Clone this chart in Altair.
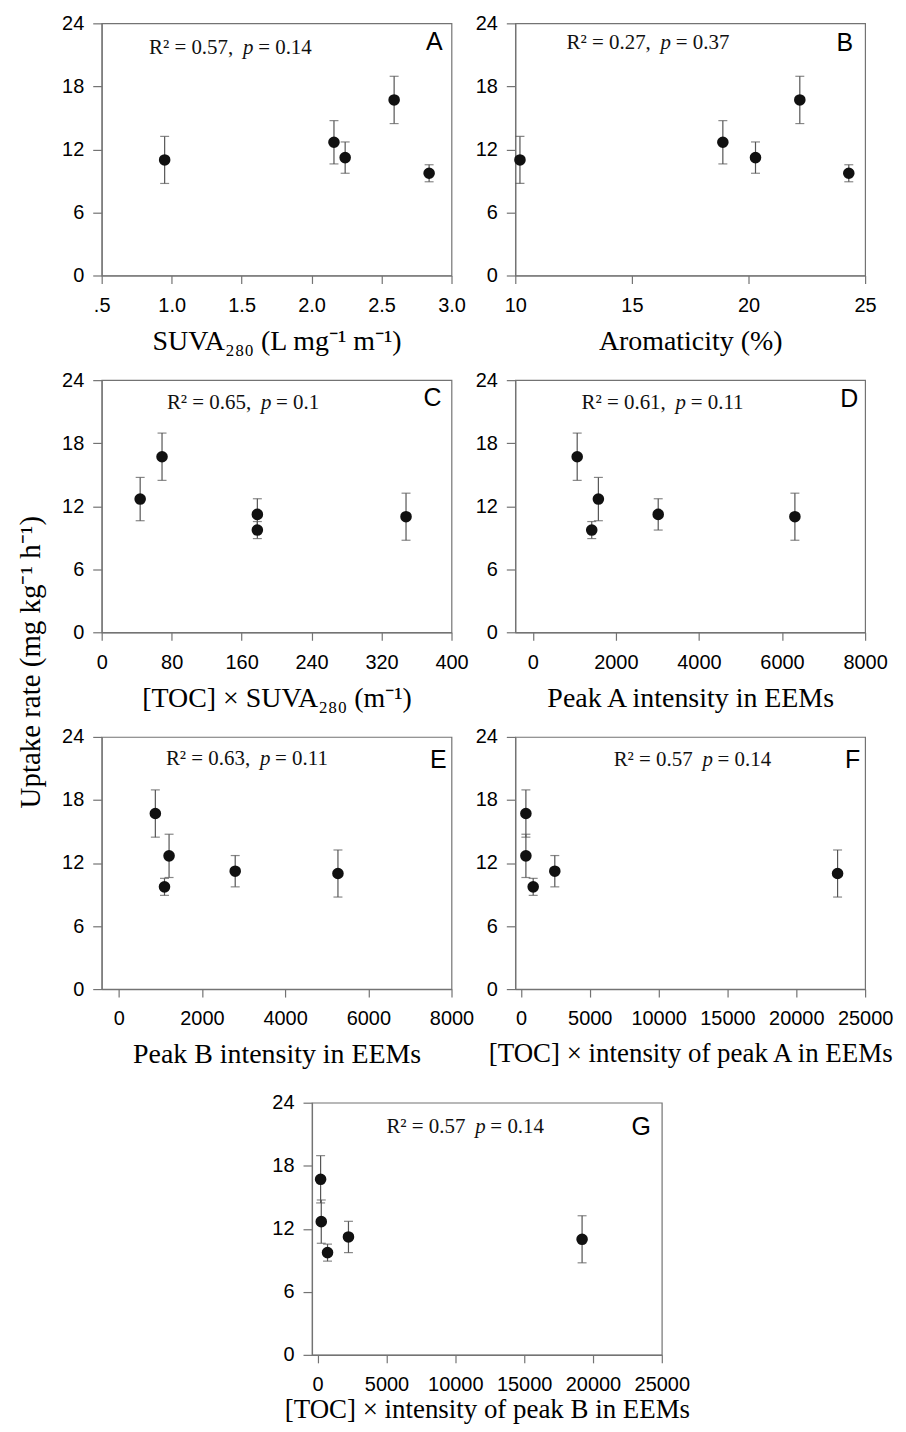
import altair as alt
import pandas as pd

# ---- data ----
uptake = [11.0, 12.68, 11.22, 16.71, 9.73]
uptake_err = [2.24, 2.06, 1.49, 2.25, 0.81]

suva280 = [0.95, 2.16, 2.24, 2.59, 2.84]
aromaticity = [10.2, 18.9, 20.3, 22.2, 24.3]
toc_x_suva = [348, 44, 178, 69, 178]
peak_a = [6310, 1580, 3020, 1070, 1420]
peak_b = [5270, 1210, 2800, 880, 1100]
toc_x_peak_a = [23000, 360, 2460, 360, 890]
toc_x_peak_b = [19210, 265, 2240, 217, 720]

panel_letters = ["A", "B", "C", "D", "E", "F", "G"]
r2_texts = ["R² = 0.57,", "R² = 0.27,", "R² =  0.65,", "R² = 0.61,",
            "R² =  0.63,", "R² = 0.57", "R² = 0.57"]
p_values = ["= 0.14", "= 0.37", "= 0.1", "= 0.11", "= 0.11", "= 0.14", "= 0.14"]
x_titles = [
    "SUVA₂₈₀ (L mg⁻¹ m⁻¹)",
    "Aromaticity (%)",
    "[TOC] ×  SUVA₂₈₀ (m⁻¹)",
    "Peak A intensity in EEMs",
    "Peak B intensity in EEMs",
    "[TOC] ×  intensity of peak A in EEMs",
    "[TOC] ×  intensity of peak B in EEMs",
]
y_title = "Uptake rate (mg kg⁻¹ h⁻¹)"
y_ticks = [0, 6, 12, 18, 24]
x_ticks_a = [0.5, 1.0, 1.5, 2.0, 2.5, 3.0]
x_ticks_b = [10, 15, 20, 25]
x_ticks_c = [0, 80, 160, 240, 320, 400]
x_ticks_de = [0, 2000, 4000, 6000, 8000]
x_ticks_fg = [0, 5000, 10000, 15000, 20000, 25000]

# ---- styling / layout ----
SANS = "Liberation Sans"
SERIF = "Liberation Serif"
GREY = "#737373"
ERR = "#555555"
W, H = 351, 253


def panel(xvals, domain, ticks, idx, label_expr, p_x, p_y, let_dx, let_y,
          title_pad=12, title_size=28, top_extra=None):
    df = pd.DataFrame({"x": xvals, "y": uptake, "err": uptake_err})
    df["lo"] = df["y"] - df["err"]
    df["hi"] = df["y"] + df["err"]
    xs = alt.Scale(domain=domain, nice=False, zero=False)
    ys = alt.Scale(domain=[0, 24], nice=False, zero=False)
    xax = alt.Axis(values=ticks, title=x_titles[idx], labelExpr=label_expr,
                   titlePadding=title_pad, titleFontSize=title_size,
                   labelOverlap=False, labelFlush=False)
    yax = alt.Axis(values=y_ticks, title=None)
    base = alt.Chart(df)
    rule = base.mark_rule(color=ERR, strokeWidth=1.2).encode(
        x=alt.X("x:Q", scale=xs, axis=xax),
        y=alt.Y("lo:Q", scale=ys, axis=yax),
        y2="hi:Q",
    )
    cap_hi = base.mark_tick(orient="horizontal", size=9, thickness=1.2,
                            color=ERR).encode(x="x:Q", y="hi:Q")
    cap_lo = base.mark_tick(orient="horizontal", size=9, thickness=1.2,
                            color=ERR).encode(x="x:Q", y="lo:Q")
    pts = base.mark_circle(size=135, color="#111111", opacity=1).encode(
        x="x:Q", y="y:Q")

    t1 = alt.Chart(pd.DataFrame({"t": [r2_texts[idx]]})).mark_text(
        align="right", baseline="middle", font=SERIF, fontSize=21,
        color="#111").encode(text="t:N", x=alt.value(p_x - 15),
                             y=alt.value(p_y))
    t2 = alt.Chart(pd.DataFrame({"t": ["p"]})).mark_text(
        align="center", baseline="middle", font=SERIF, fontSize=21,
        fontStyle="italic", color="#111").encode(
        text="t:N", x=alt.value(p_x), y=alt.value(p_y))
    t3 = alt.Chart(pd.DataFrame({"t": [p_values[idx]]})).mark_text(
        align="left", baseline="middle", font=SERIF, fontSize=21,
        color="#111").encode(text="t:N", x=alt.value(p_x + 10),
                             y=alt.value(p_y))
    let = alt.Chart(pd.DataFrame({"t": [panel_letters[idx]]})).mark_text(
        align="right", baseline="middle", font=SANS, fontSize=25,
        color="#000").encode(text="t:N", x=alt.value(W - let_dx),
                             y=alt.value(let_y))
    layers = [rule, cap_hi, cap_lo, pts, t1, t2, t3, let]
    if top_extra is not None:
        # invisible rule reserving a little room above the panel (layout only)
        layers.append(
            alt.Chart(pd.DataFrame({"t": [0]})).mark_rule(
                color="white", strokeWidth=1).encode(
                x=alt.value(W / 2), y=alt.value(-top_extra),
                y2=alt.value(-top_extra + 1)))
    return alt.layer(*layers).properties(width=W, height=H)


fmt_a = "datum.value == 0.5 ? '.5' : format(datum.value, '.1f')"
fmt_d = "format(datum.value, 'd')"

pA = panel(suva280, [0.5, 3.0], x_ticks_a, 0, fmt_a, 147, 25, 9, 19)
pB = panel(aromaticity, [10, 25], x_ticks_b, 1, fmt_d, 151, 20, 12, 20)
pC = panel(toc_x_suva, [0, 400], x_ticks_c, 2, fmt_d, 165, 23, 10, 18)
pD = panel(peak_a, [-420, 8000], x_ticks_de, 3, fmt_d, 166, 23, 7, 19)
pE = panel(peak_b, [-410, 8000], x_ticks_de, 4, fmt_d, 164, 22, 5, 23)
pF = panel(toc_x_peak_a, [-410, 25000], x_ticks_fg, 5, fmt_d, 193, 23, 5, 23,
           title_size=27)
pG = panel(toc_x_peak_b, [-410, 25000], x_ticks_fg, 6, fmt_d, 169, 24, 11, 24,
           title_pad=2, title_size=27, top_extra=18)

no_frame = alt.ViewBackground(stroke="transparent")

spacer = alt.Chart(pd.DataFrame({"t": [""]})).mark_text().encode(
    text="t:N", x=alt.value(0), y=alt.value(0)
).properties(width=160, height=H, view=no_frame)

ylab = alt.Chart(pd.DataFrame({"t": [y_title]})).mark_text(
    align="center", baseline="middle", angle=270, font=SERIF, fontSize=29,
    color="#000").encode(text="t:N", x=alt.value(15), y=alt.value(641)
).properties(width=30, height=700, view=no_frame)

row1 = alt.hconcat(pA, pB, spacing=64, bounds="flush")
row2 = alt.hconcat(pC, pD, spacing=64, bounds="flush")
row3 = alt.hconcat(pE, pF, spacing=64, bounds="flush")
row4 = alt.hconcat(spacer, pG, spacing=51, bounds="flush")

grid = alt.vconcat(row1, row2, row3, row4, spacing=13)

chart = alt.hconcat(ylab, grid, spacing=14).properties(
    padding={"left": 7, "top": 2, "right": 0, "bottom": 0}
).configure_view(
    stroke=GREY, strokeWidth=1.2
).configure_axis(
    grid=False, domainColor=GREY, tickColor=GREY, domainWidth=1.2,
    tickWidth=1.2, labelFont=SANS, labelFontSize=20, labelColor="#000",
    titleFont=SERIF, titleFontWeight="normal", titleColor="#000"
).configure_axisX(
    tickSize=8, labelPadding=12
).configure_axisY(
    tickSize=9, labelPadding=9
)

chart.save("out.html", embed_options={"renderer": "svg", "actions": False})
